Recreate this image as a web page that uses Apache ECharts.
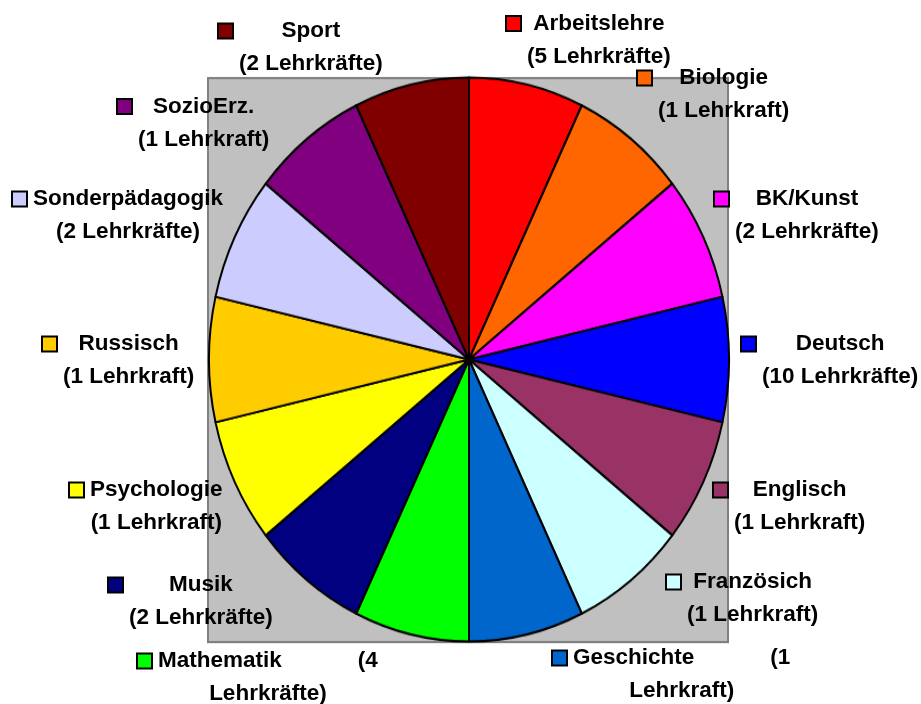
<!DOCTYPE html>
<html>
<head>
<meta charset="utf-8">
<title>Lehrkräfte</title>
<script src="https://cdn.jsdelivr.net/npm/echarts@6/dist/echarts.min.js"></script>
<style>
html,body{margin:0;padding:0;background:#fff;}
.layer{position:absolute;left:0;top:0;width:921px;height:704px;}
/* the pie in the original is stretched a bit vertically */
#pie{transform:scaleY(1.0846);transform-origin:0 359.5px;}
</style>
</head>
<body>
<div id="pie" class="layer"></div>
<div id="lbl" class="layer"></div>
<script>
var subjects = ['Arbeitslehre','Biologie','BK/Kunst','Deutsch','Englisch','Französich','Geschichte',
    'Mathematik','Musik','Psychologie','Russisch','Sonderpädagogik','SozioErz.','Sport'];
var teachers = [5, 1, 2, 10, 1, 1, 1, 4, 2, 1, 1, 2, 1, 2];
var shares = [1, 1, 1, 1, 1, 1, 1, 1, 1, 1, 1, 1, 1, 1];
var colors = ['#FF0000','#FF6600','#FF00FF','#0000FF','#993366','#CCFFFF','#0066CC',
    '#00FF00','#000080','#FFFF00','#FFCC00','#CCCCFF','#800080','#800000'];
// labels that wrapped after the number
var wrapped = ['Geschichte','Mathematik'];

// label anchor: left edge of the key box, middle of the first line
var labelAt = [[507,23.5],[638,78],[715,199],[742,344],[714,490],[667,582],[553,658],
    [138,661],[109,585],[70,490],[43,344],[13,199],[118,106.5],[219,31]];

var FONT = 'Liberation Sans, Arial, sans-serif';

window.onload = function(){
    drawPie();
    drawLabels();
};

function pieData(){
    var d = [];
    for (var i = 0; i < subjects.length; i++) {
        d.push({name: subjects[i], value: shares[i], itemStyle: {color: colors[i]}});
    }
    return d;
}

// gray plot area + slices
function drawPie(){
    var chart = echarts.init(document.getElementById('pie'));
    chart.setOption({
        animation: false,
        graphic: [{
            type: 'rect', silent: true, z: -10,
            shape: {x: 208, y: 100, width: 520, height: 520},
            style: {fill: '#C0C0C0', stroke: '#808080', lineWidth: 2}
        }],
        series: [{
            type: 'pie',
            silent: true,
            center: [469, 359.5],
            radius: 260,
            startAngle: 90,
            clockwise: true,
            label: {show: false},
            labelLine: {show: false},
            itemStyle: {borderColor: '#000', borderWidth: 2},
            data: pieData()
        }]
    });
}

function labelText(i){
    var n = teachers[i];
    var word = n == 1 ? 'Lehrkraft)' : 'Lehrkräfte)';
    var key = '{k' + i + '|}{g|}';
    if (wrapped.indexOf(subjects[i]) >= 0) {
        return key + '{tl|' + subjects[i] + '}{w|}{tl|(' + n + '}\n{sp|}{t|' + word + '}';
    }
    return key + '{t|' + subjects[i] + '}\n{sp|}{t|(' + n + ' ' + word + '}';
}

// labels with legend keys, unstretched
function drawLabels(){
    var txt = {fontSize: 22.5, fontWeight: 'bold', fontFamily: FONT, color: '#000', lineHeight: 33};
    var rich = {
        t: Object.assign({align: 'center'}, txt),
        tl: Object.assign({align: 'left'}, txt),
        g: {width: 7, align: 'left'},
        sp: {width: 20, align: 'left'},
        w: {width: 76, align: 'left'}
    };
    for (var i = 0; i < subjects.length; i++) {
        rich['k' + i] = {width: 13, height: 13, align: 'left', backgroundColor: colors[i],
            borderColor: '#000', borderWidth: 2};
    }
    var data = pieData();
    for (var j = 0; j < data.length; j++) {
        data[j].itemStyle = {color: 'rgba(0,0,0,0)'};
    }

    var chart = echarts.init(document.getElementById('lbl'));
    chart.setOption({
        animation: false,
        series: [{
            type: 'pie',
            silent: true,
            center: [469, 359.5],
            radius: 260,
            startAngle: 90,
            avoidLabelOverlap: false,
            itemStyle: {borderWidth: 0},
            label: {
                show: true,
                position: 'outside',
                fontSize: 22.5,
                fontWeight: 'bold',
                fontFamily: FONT,
                lineHeight: 33,
                color: '#000',
                formatter: function(p){ return labelText(p.dataIndex); },
                rich: rich
            },
            labelLine: {show: false},
            labelLayout: function(p){
                var a = labelAt[p.dataIndex];
                return {x: a[0], y: a[1] - 16.5, align: 'left', verticalAlign: 'top'};
            },
            data: data
        }]
    });
}
</script>
</body>
</html>
